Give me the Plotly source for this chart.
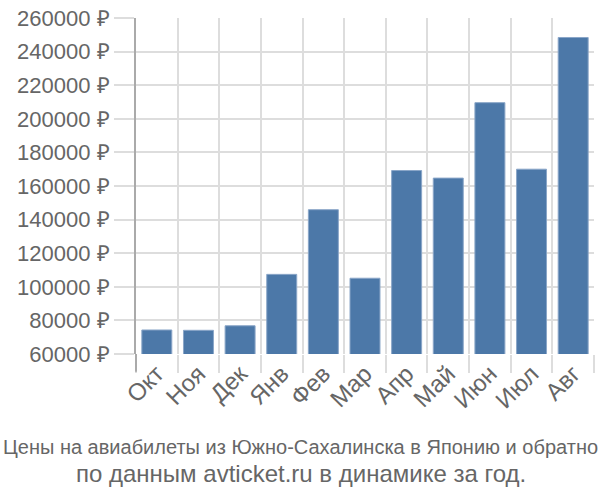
import plotly.graph_objects as go

months = ["Окт", "Ноя", "Дек", "Янв", "Фев", "Мар", "Апр", "Май", "Июн", "Июл", "Авг"]
prices = [74300, 74100, 76800, 107400, 145900, 105100, 169200, 164700, 209600, 170000, 248400]
y_ticks = [60000, 80000, 100000, 120000, 140000, 160000, 180000, 200000, 220000, 240000, 260000]
title_lines = ["Цены на авиабилеты из Южно-Сахалинска в Японию и обратно",
               "по данным avticket.ru в динамике за год."]

FONT = "Liberation Sans"
GRID = "#dddddd"
TXT = "#666666"

fig = go.Figure(go.Bar(
    x=months, y=prices,
    marker=dict(color="#4c78a8", line=dict(color="#8aa6c8", width=1)),
    width=0.72,
))

plot_top, plot_h, plot_l, plot_w = 14, 340, 136, 458

def py(pix):
    return (plot_top + plot_h - pix) / plot_h

fig.update_layout(
    width=600, height=500,
    margin=dict(l=plot_l, r=600 - plot_l - plot_w, t=plot_top, b=500 - plot_top - plot_h),
    paper_bgcolor="white", plot_bgcolor="white",
    showlegend=False,
    font=dict(family=FONT, color=TXT),
    xaxis=dict(
        type="category", tickson="boundaries",
        ticks="outside", ticklen=18, tickcolor=GRID, tickwidth=2,
        showgrid=True, gridcolor=GRID, gridwidth=2,
        tickangle=-45, tickfont=dict(size=24, color=TXT, family=FONT),
        showline=False, zeroline=False,
    ),
    yaxis=dict(
        range=[60000, 260000], tickvals=y_ticks,
        ticktext=[f"{v} ₽" for v in y_ticks],
        ticks="outside", ticklen=20, tickcolor=GRID, tickwidth=2,
        showgrid=True, gridcolor=GRID, gridwidth=2,
        showline=True, linecolor="#aaaaaa", linewidth=2,
        tickfont=dict(size=22, color=TXT, family=FONT),
        zeroline=False,
    ),
    shapes=[dict(type="line", xref="paper", yref="paper", x0=0, x1=0,
                 y0=0, y1=-0.053, line=dict(color="#aaaaaa", width=2))],
    annotations=[
        dict(text=title_lines[0], x=(300 - plot_l) / plot_w, xref="paper",
             y=py(448), yref="paper", yanchor="middle", xanchor="center",
             showarrow=False, font=dict(size=20, color=TXT, family=FONT)),
        dict(text=title_lines[1], x=(301 - plot_l) / plot_w, xref="paper",
             y=py(475), yref="paper", yanchor="middle", xanchor="center",
             showarrow=False, font=dict(size=24, color=TXT, family=FONT)),
    ],
)
fig.write_html("out.html")
